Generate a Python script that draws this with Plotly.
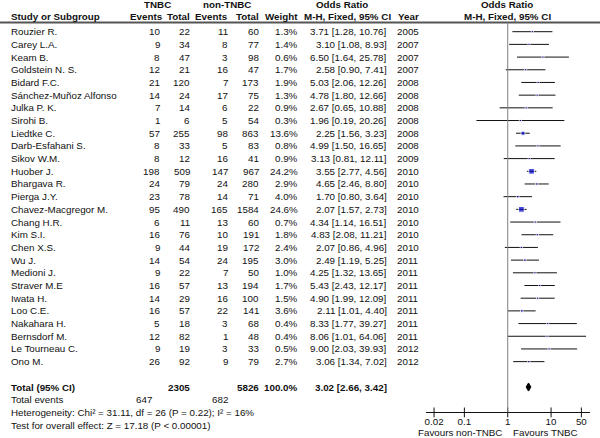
import plotly.graph_objects as go

studies = ["Rouzier R.", "Carey L.A.", "Keam B.", "Goldstein N. S.", "Bidard F.C.",
           "Sánchez-Muñoz Alfonso", "Julka P. K.", "Sirohi B.", "Liedtke C.", "Darb-Esfahani S.",
           "Sikov W.M.", "Huober J.", "Bhargava R.", "Pierga J.Y.", "Chavez-Macgregor M.",
           "Chang H.R.", "Kim S.I.", "Chen X.S.", "Wu J.", "Medioni J.", "Straver M.E",
           "Iwata H.", "Loo C.E.", "Nakahara H.", "Bernsdorf M.", "Le Tourneau C.", "Ono M."]
tnbc_events = [10, 9, 8, 12, 21, 14, 7, 1, 57, 8, 8, 198, 24, 23, 95, 6, 16, 9, 14, 9, 16, 14, 16, 5, 12, 9, 26]
tnbc_total = [22, 34, 47, 21, 120, 24, 14, 6, 255, 33, 12, 509, 79, 78, 490, 11, 76, 44, 54, 22, 57, 29, 57, 18, 82, 19, 92]
non_events = [11, 8, 3, 16, 7, 17, 6, 5, 98, 5, 16, 147, 24, 14, 165, 13, 10, 19, 24, 7, 13, 16, 22, 3, 1, 3, 9]
non_total = [60, 77, 98, 47, 173, 75, 22, 54, 863, 83, 41, 967, 280, 71, 1584, 60, 191, 172, 195, 50, 194, 100, 141, 68, 48, 33, 79]
weight = [1.3, 1.4, 0.6, 1.7, 1.9, 1.3, 0.9, 0.3, 13.6, 0.8, 0.9, 24.2, 2.9, 4.0, 24.6, 0.7, 1.8, 2.4, 3.0, 1.0,
          1.7, 1.5, 3.6, 0.4, 0.4, 0.5, 2.7]
odds = [3.71, 3.10, 6.50, 2.58, 5.03, 4.78, 2.67, 1.96, 2.25, 4.99, 3.13, 3.55, 4.65, 1.70, 2.07, 4.34, 4.83, 2.07,
        2.49, 4.25, 5.43, 4.90, 2.11, 8.33, 8.06, 9.00, 3.06]
ci_low = [1.28, 1.08, 1.64, 0.90, 2.06, 1.80, 0.65, 0.19, 1.56, 1.50, 0.81, 2.77, 2.46, 0.80, 1.57, 1.14, 2.08, 0.86,
          1.19, 1.32, 2.43, 1.99, 1.01, 1.77, 1.01, 2.03, 1.34]
ci_high = [10.76, 8.93, 25.78, 7.41, 12.26, 12.66, 10.88, 20.26, 3.23, 16.65, 12.11, 4.56, 8.80, 3.64, 2.73, 16.51,
           11.21, 4.96, 5.25, 13.65, 12.17, 12.09, 4.40, 39.27, 64.06, 39.93, 7.02]
years = [2005, 2007, 2007, 2007, 2008, 2008, 2008, 2008, 2008, 2008, 2009, 2010, 2010, 2010, 2010, 2010, 2010, 2010,
         2011, 2011, 2011, 2011, 2011, 2011, 2011, 2012, 2012]

total_or = 3.02
total_low = 2.66
total_high = 3.42
total_tnbc = 2305
total_non = 5826
total_weight = "100.0%"
events_tnbc = 647
events_non = 682
heterogeneity = "Heterogeneity: Chi² = 31.11, df = 26 (P = 0.22); I² = 16%"
overall = "Test for overall effect: Z = 17.18 (P < 0.00001)"

tick_vals = [0.02, 0.1, 1, 10, 50]
tick_text = ["0.02", "0.1", "1", "10", "50"]

FONT = "Liberation Sans, Arial, sans-serif"
FS = 9.8
W, H = 600, 438
TOTAL_ROW = len(studies) + 1
AXIS_ROW = 30.0
HEAD_LINE = -0.72

annotations = []


def txt(text, px, row, anchor="left", bold=False):
    if bold:
        text = "<b>" + text + "</b>"
    annotations.append(dict(text=text, x=px / W, xref="paper", y=row, yref="y",
                            xanchor=anchor, yanchor="middle", showarrow=False,
                            borderpad=0, borderwidth=0,
                            font=dict(family=FONT, size=FS, color="#111")))


# headers
txt("TNBC", 157, -2.12, "center", True)
txt("non-TNBC", 227, -2.12, "center", True)
txt("Odds Ratio", 342, -2.12, "center", True)
txt("Odds Ratio", 507, -2.12, "center", True)
txt("Study or Subgroup", 11, -1.18, "left", True)
txt("Events", 163, -1.18, "right", True)
txt("Total", 190, -1.18, "right", True)
txt("Events", 228, -1.18, "right", True)
txt("Total", 259, -1.18, "right", True)
txt("Weight", 298, -1.18, "right", True)
txt("M-H, Fixed, 95% CI", 347, -1.18, "center", True)
txt("Year", 398, -1.18, "left", True)
txt("M-H, Fixed, 95% CI", 507, -1.18, "center", True)

# study rows
for i, name in enumerate(studies):
    txt(name, 11, i)
    txt(str(tnbc_events[i]), 160, i, "right")
    txt(str(tnbc_total[i]), 190, i, "right")
    txt(str(non_events[i]), 228, i, "right")
    txt(str(non_total[i]), 259, i, "right")
    txt("%.1f%%" % weight[i], 298, i, "right")
    txt("%.2f [%.2f, %.2f]" % (odds[i], ci_low[i], ci_high[i]), 387, i, "right")
    txt(str(years[i]), 397, i, "left")

# totals
txt("Total (95% CI)", 11, TOTAL_ROW, "left", True)
txt(str(total_tnbc), 190, TOTAL_ROW, "right", True)
txt(str(total_non), 259, TOTAL_ROW, "right", True)
txt(total_weight, 298, TOTAL_ROW, "right", True)
txt("%.2f [%.2f, %.2f]" % (total_or, total_low, total_high), 387, TOTAL_ROW, "right", True)
txt("Total events", 11, TOTAL_ROW + 1)
txt(str(events_tnbc), 152, TOTAL_ROW + 1, "right")
txt(str(events_non), 228, TOTAL_ROW + 1, "right")
txt(heterogeneity, 11, TOTAL_ROW + 2)
txt(overall, 11, TOTAL_ROW + 3)
txt("Favours non-TNBC", 502, 31.6, "right")
txt("Favours TNBC", 513, 31.6, "left")

fig = go.Figure()

# confidence interval lines
cx, cy = [], []
for i in range(len(studies)):
    cx += [ci_low[i], ci_high[i], None]
    cy += [i, i, None]
fig.add_trace(go.Scatter(x=cx, y=cy, mode="lines", line=dict(color="#111", width=1),
                         hoverinfo="skip", showlegend=False))

# study squares
fig.add_trace(go.Scatter(x=odds, y=list(range(len(studies))), mode="markers",
                         marker=dict(symbol="square", color="#0000cc",
                                     size=[max(2.2, 2 + 0.15 * w) for w in weight]),
                         showlegend=False))

# pooled diamond
fig.add_trace(go.Scatter(x=[total_low, total_or, total_high, total_or, total_low],
                         y=[TOTAL_ROW, TOTAL_ROW - 0.32, TOTAL_ROW, TOTAL_ROW + 0.32, TOTAL_ROW],
                         mode="lines", fill="toself", fillcolor="#000",
                         line=dict(color="#000", width=1), showlegend=False))

# tick marks crossing the axis line
fig.add_trace(go.Scatter(x=tick_vals, y=[AXIS_ROW] * len(tick_vals), mode="markers",
                         marker=dict(symbol="line-ns", size=7, line=dict(color="#111", width=1)),
                         hoverinfo="skip", showlegend=False))

fig.add_shape(type="line", xref="paper", yref="y", x0=0, x1=1, y0=HEAD_LINE, y1=HEAD_LINE,
              line=dict(color="#555", width=2))
fig.add_shape(type="line", xref="x", yref="y", x0=1, x1=1, y0=HEAD_LINE, y1=AXIS_ROW,
              line=dict(color="#808080", width=1))

y_top = -31.7 / 12.69
y_bot = (H - 31.7) / 12.69

fig.update_layout(
    width=W, height=H, autosize=False,
    margin=dict(l=0, r=0, t=0, b=0),
    paper_bgcolor="white", plot_bgcolor="white",
    font=dict(family=FONT, size=FS, color="#111"),
    annotations=annotations,
    xaxis=dict(type="log", domain=[426 / W, 590 / W], range=[-1.885, 1.898],
               anchor="free", position=1 - 412.3 / H,
               showline=True, linecolor="#111", linewidth=1, showgrid=False, zeroline=False,
               tickvals=tick_vals, ticktext=tick_text, ticks="", ticklabelstandoff=0,
               tickfont=dict(family=FONT, size=FS, color="#111")),
    yaxis=dict(domain=[0, 1], range=[y_bot, y_top], visible=False, showgrid=False),
)

# drop the default body margin so the 600x438 figure fills the window
fig.write_html("out.html", config={"displayModeBar": False},
               post_script="document.body.style.margin='0';")
